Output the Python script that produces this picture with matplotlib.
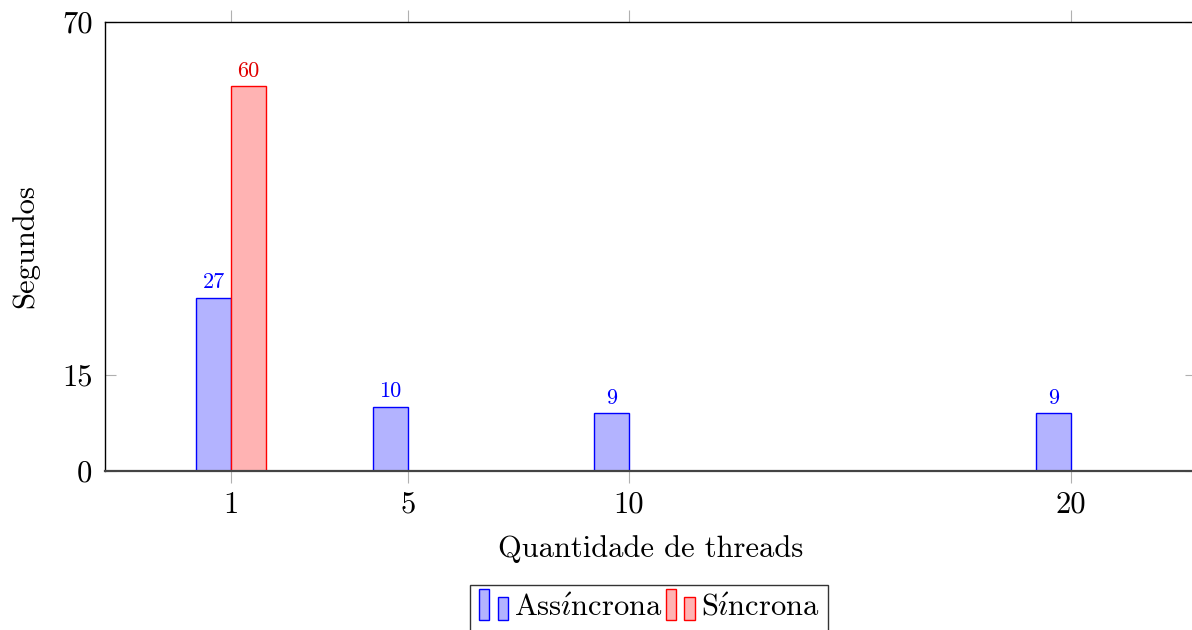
import matplotlib
matplotlib.use("Agg")
import matplotlib.pyplot as plt
from matplotlib.patches import Rectangle
from matplotlib.legend_handler import HandlerBase

# data
threads = [1, 5, 10, 20]
assincrona = [27, 10, 9, 9]
sincrona_threads = [1]
sincrona = [60]
yticks = [0, 15, 70]
legend_labels = [r'Ass$\acute{\imath}$ncrona', r'S$\acute{\imath}$ncrona']

plt.rcParams['font.family'] = ['cmr10', 'DejaVu Serif']
plt.rcParams['mathtext.fontset'] = 'cm'
plt.rcParams['axes.formatter.use_mathtext'] = True

blue_fill = '#b3b3ff'
red_fill = '#ffb3b3'


class TwoBarHandler(HandlerBase):
    """pgfplots-style ybar legend image: two small bars."""

    def create_artists(self, legend, orig_handle, xdescent, ydescent,
                       width, height, fontsize, trans):
        fc = orig_handle.get_facecolor()
        ec = orig_handle.get_edgecolor()
        w = width * 0.33
        y0 = -ydescent - 0.2 * height
        r1 = Rectangle((-xdescent, y0), w, height * 1.45,
                       facecolor=fc, edgecolor=ec, lw=1.0, transform=trans)
        r2 = Rectangle((-xdescent + width * 0.62, y0), w, height * 1.1,
                       facecolor=fc, edgecolor=ec, lw=1.0, transform=trans)
        return [r1, r2]


fig = plt.figure(figsize=(11.92, 6.3), dpi=100)
fig.patch.set_facecolor('white')
ax = fig.add_axes([105 / 1192, 1 - 471 / 630, 1091 / 1192, 449 / 630])

bw = 0.79
b1 = ax.bar([t - bw / 2 for t in threads], assincrona, width=bw,
            color=blue_fill, edgecolor='#0000ff', linewidth=1.0)
b2 = ax.bar([t + bw / 2 for t in sincrona_threads], sincrona, width=bw,
            color=red_fill, edgecolor='#ff0000', linewidth=1.0)

ax.bar_label(b1, labels=[str(v) for v in assincrona], padding=4, fontsize=16, color='#0000ff')
ax.bar_label(b2, labels=[str(v) for v in sincrona], padding=4, fontsize=16, color='#e00000')

ax.set_xlim(-1.85, 22.83)
ax.set_ylim(0, 70)
ax.set_xticks(threads)
ax.set_xticklabels([str(t) for t in threads], fontsize=22)
ax.set_yticks(yticks)
ax.set_yticklabels([str(t) for t in yticks], fontsize=22)

ax.tick_params(axis='x', direction='out', length=8.5, width=0.8, color='#b0b0b0',
               top=True, bottom=True, pad=6)
ax.tick_params(axis='y', direction='in', length=8, width=0.8, color='#b0b0b0',
               left=True, right=True, pad=9)

for side in ['left', 'top', 'right']:
    ax.spines[side].set_color('black')
    ax.spines[side].set_linewidth(1.0)
ax.spines['bottom'].set_color('#444444')
ax.spines['bottom'].set_linewidth(1.6)

ax.set_xlabel('Quantidade de threads', fontsize=22, va='top')
ax.xaxis.set_label_coords(0.5, -0.143)
ax.set_ylabel('Segundos', fontsize=22)
ax.yaxis.set_label_coords(-0.06, 0.5)

leg = fig.legend(handles=[b1[0], b2[0]], labels=legend_labels,
                 loc='upper center', bbox_to_anchor=(649 / 1192, 1 - 585 / 630),
                 ncol=2, fontsize=22, frameon=True, fancybox=False,
                 edgecolor='black', handler_map={Rectangle: TwoBarHandler()},
                 handlelength=1.0, handletextpad=0.15, columnspacing=0.1,
                 borderpad=0.3, borderaxespad=0)
leg.get_frame().set_linewidth(1.0)

fig.savefig('out.png', dpi=100, facecolor='white')
